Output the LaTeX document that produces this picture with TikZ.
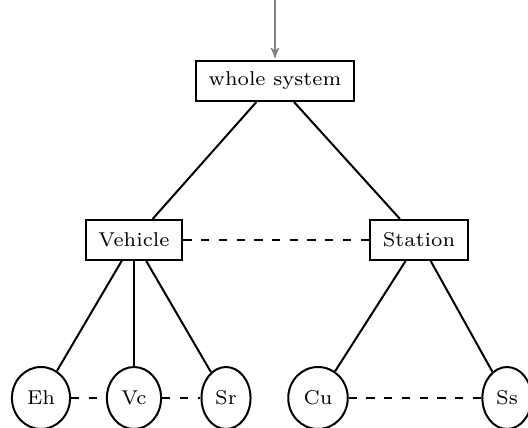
\documentclass[tikz,border=0pt]{standalone}
\usepackage{tikz}
\usetikzlibrary{arrows,shapes}

\begin{document}
\begin{tikzpicture}[>=stealth',x=0.35pt,y=-0.35pt,font=\scriptsize,
  box/.style={draw,rectangle,line width=0.7pt,minimum height=14pt,inner xsep=4.5pt},
  leaf/.style={draw,ellipse,line width=0.7pt,minimum height=21.7pt,inner sep=2.3pt},
  link/.style={line width=0.7pt},
  peer/.style={line width=0.7pt,dash pattern=on 2.9pt off 3.3pt}]
%%
\useasboundingbox (0,0) rectangle (528,428);
\clip (0,0) rectangle (528,428);
%
  \coordinate (in) at (275,0);
  \node (whole) at (275,81) [box] {whole system};
  \node (veh) at (134,240) [box] {Vehicle};
  \node (sta) at (419,240) [box] {Station};
  \node (eh) at (41,398) [leaf] {Eh};
  \node (vc) at (134,398) [leaf] {Vc};
  \node (sr) at (226,398) [leaf] {Sr};
  \node (cu) at (318,398) [leaf] {Cu};
  \node (ss) at (507,398) [leaf] {Ss};

  \draw[->,gray,line width=0.4pt,shorten >=0.7pt] (in) -- (whole);

  \path[link] (whole) edge (veh);
  \path[link] (whole) edge (sta);
  \path[link] (veh) edge (eh);
  \path[link] (veh) edge (vc);
  \path[link] (veh) edge (sr);
  \path[link] (sta) edge (cu);
  \path[link] (sta) edge (ss);

  \path[peer] (veh) edge (sta);
  \path[peer] (eh) edge (vc);
  \path[peer] (vc) edge (sr);
  \path[peer] (cu) edge (ss);
%
\end{tikzpicture}
\end{document}
